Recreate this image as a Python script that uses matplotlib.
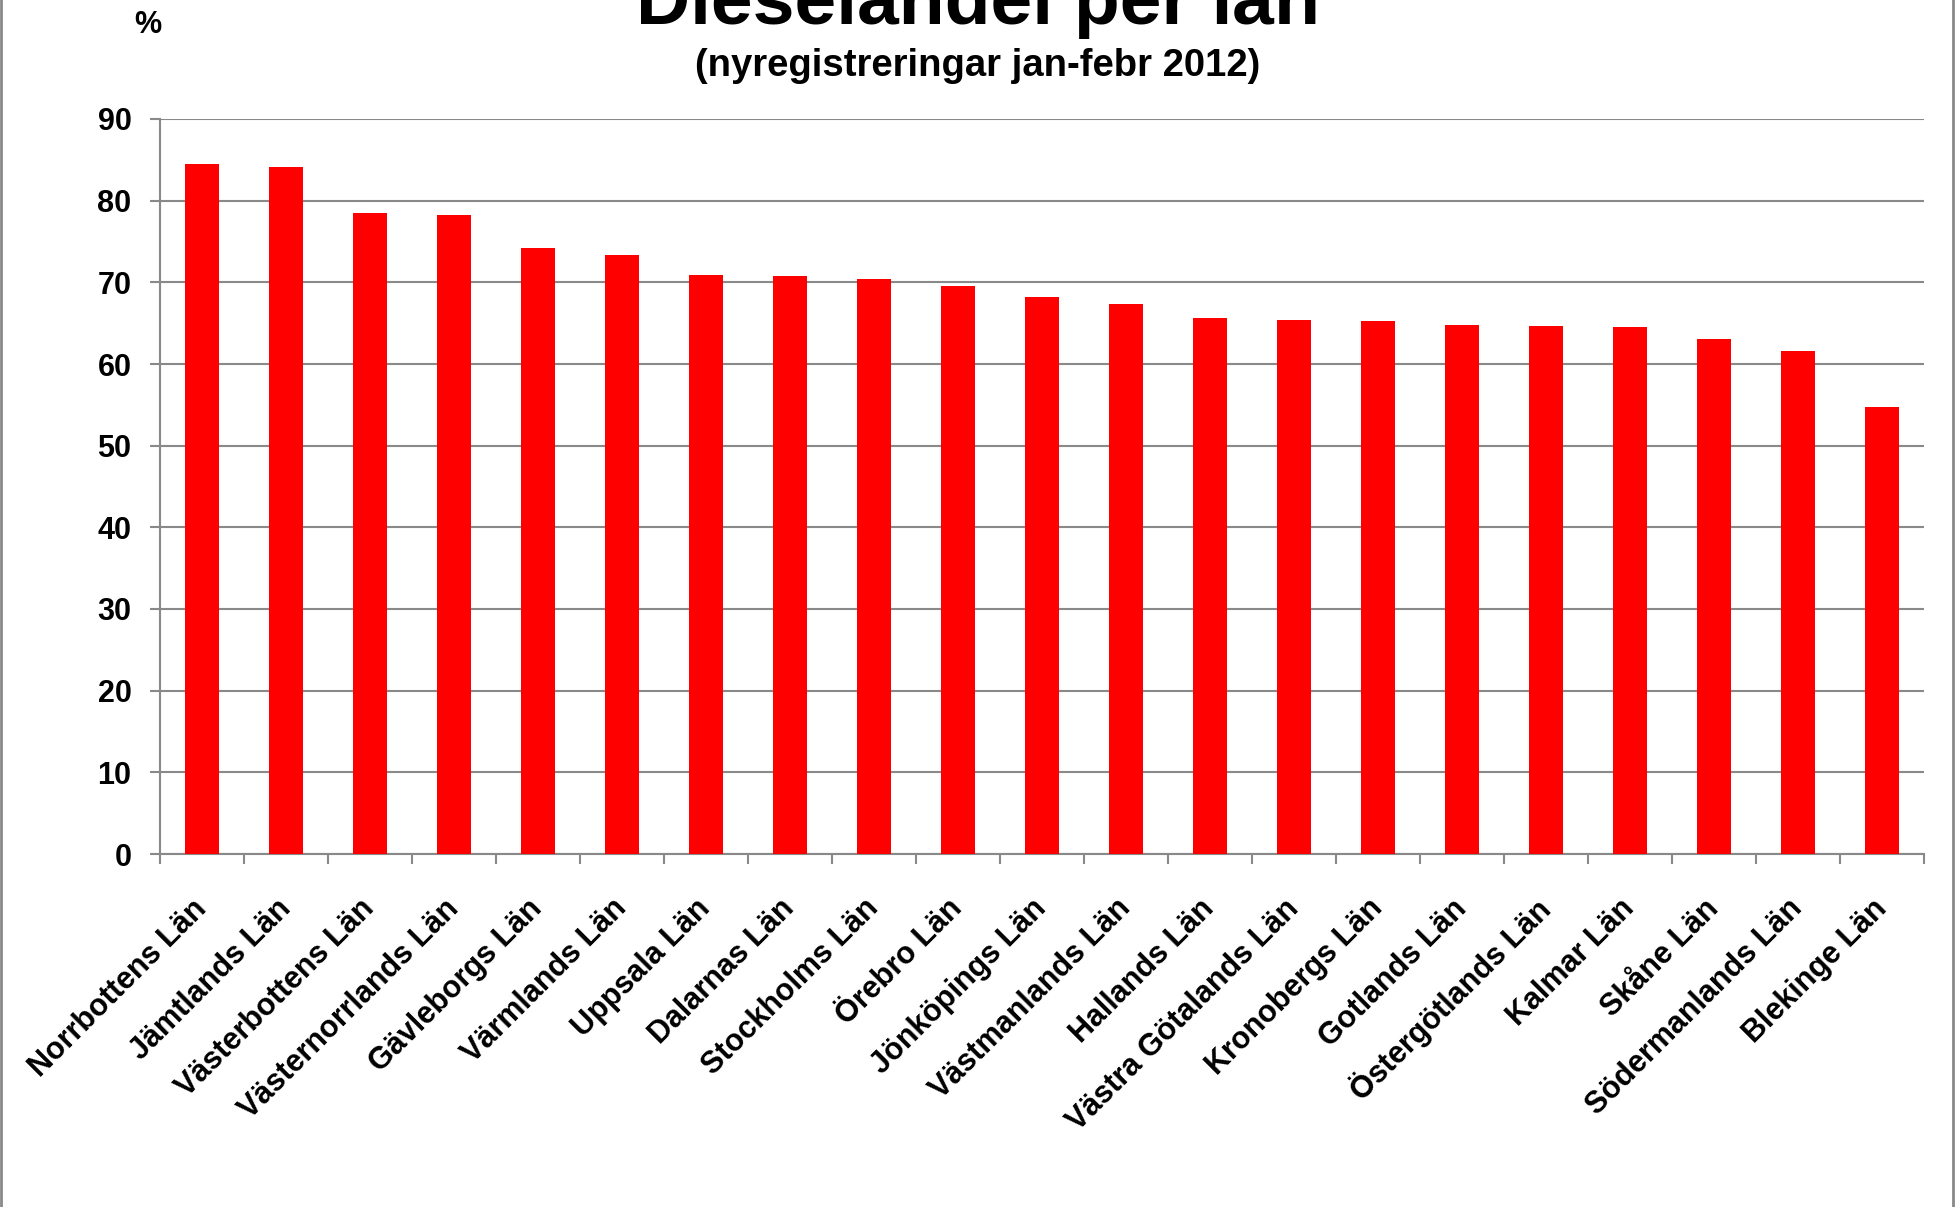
import matplotlib.pyplot as plt
import numpy as np
from matplotlib.lines import Line2D

plt.rcParams['font.family'] = ['Liberation Sans', 'DejaVu Sans']
plt.rcParams['font.weight'] = 'bold'

lan = ['Norrbottens Län', 'Jämtlands Län', 'Västerbottens Län', 'Västernorrlands Län',
       'Gävleborgs Län', 'Värmlands Län', 'Uppsala Län', 'Dalarnas Län',
       'Stockholms Län', 'Örebro Län', 'Jönköpings Län', 'Västmanlands Län',
       'Hallands Län', 'Västra Götalands Län', 'Kronobergs Län', 'Gotlands Län',
       'Östergötlands Län', 'Kalmar Län', 'Skåne Län', 'Södermanlands Län',
       'Blekinge Län']
dieselandel = [84.5, 84.1, 78.5, 78.25, 74.2, 73.3, 70.9, 70.8, 70.4, 69.6, 68.2,
               67.3, 65.6, 65.4, 65.3, 64.8, 64.7, 64.5, 63.0, 61.6, 54.7]
yticks = np.arange(0, 91, 10)

grey = '#898989'

fig = plt.figure(figsize=(19.55, 12.07), dpi=100)
ax = fig.add_axes([160/1955, 1 - 854/1207, (1924 - 160)/1955, (854 - 119)/1207])

x = np.arange(len(lan))
ax.bar(x, dieselandel, width=0.4, color='#ff0000', zorder=3)

ax.set_ylim(0, 90)
ax.set_xlim(-0.5, len(lan) - 0.5)
ax.set_yticks(yticks)
ax.set_yticklabels([str(v) for v in yticks], fontsize=22, fontweight='bold')
ax.yaxis.grid(True, color=grey, linewidth=1.5, zorder=0)

ax.set_xticks(x)
ax.set_xticklabels(lan, fontsize=22, fontweight='bold', rotation=45,
                   ha='right', va='center', rotation_mode='anchor')
ax.set_xticks(np.arange(-0.5, len(lan)), minor=True)
ax.tick_params(axis='x', which='major', length=0, pad=36)
ax.tick_params(axis='x', which='minor', length=7, width=1.5, color=grey)
ax.tick_params(axis='y', length=7, width=1.5, color=grey, pad=13.5)

for s in ['top', 'right']:
    ax.spines[s].set_visible(False)
for s in ['left', 'bottom']:
    ax.spines[s].set_color(grey)
    ax.spines[s].set_linewidth(1.5)
ax.set_axisbelow(True)

# titeln är avskuren upptill, precis som i originalet
fig.text(0.5, 1 - 24/1207, 'Dieselandel per län', ha='center', va='baseline',
         fontsize=54, fontweight='bold')
fig.text(0.5, 1 - 76/1207, '(nyregistreringar jan-febr 2012)', ha='center',
         va='baseline', fontsize=27.5, fontweight='bold')
fig.text(148/1955, 1 - 33/1207, '%', ha='center', va='baseline',
         fontsize=22, fontweight='bold')

# ram runt figuren, bara sidorna syns
fig.add_artist(Line2D([1/1955, 1/1955], [0, 1], color=grey, linewidth=2))
fig.add_artist(Line2D([1953/1955, 1953/1955], [0, 1], color=grey, linewidth=2))

fig.savefig('out.png', dpi=100)
